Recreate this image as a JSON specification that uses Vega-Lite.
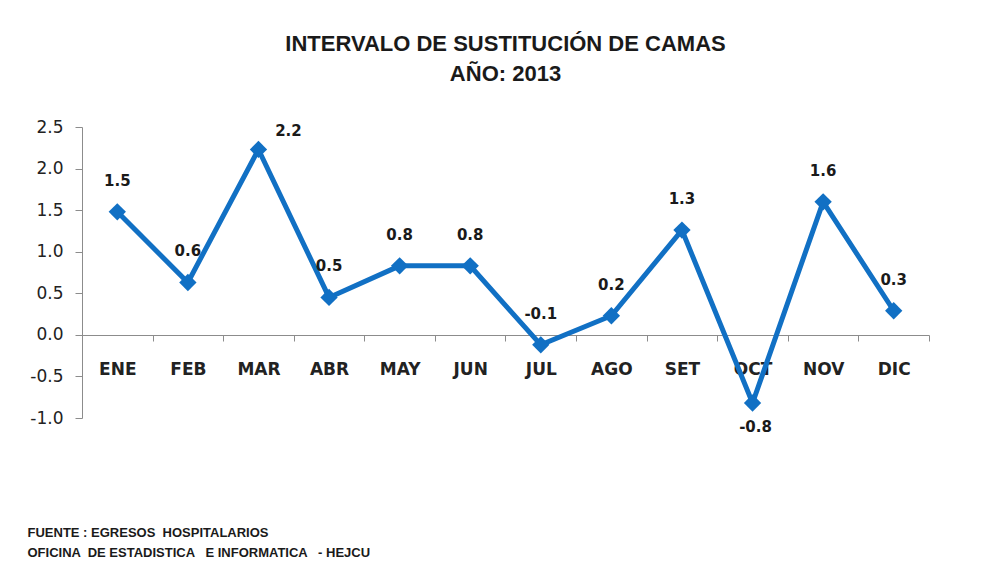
{
  "$schema": "https://vega.github.io/schema/vega-lite/v6.json",
  "autosize": {"type": "none"},
  "width": 847,
  "height": 291,
  "padding": {"left": 82, "top": 127, "right": 64, "bottom": 158},
  "background": "white",
  "config": {
    "view": {"stroke": null},
    "locale": {"number": {"decimal": ".", "thousands": ",", "grouping": [3], "currency": ["$", ""], "minus": "-"}}
  },
  "title": {
    "text": ["INTERVALO DE SUSTITUCIÓN DE CAMAS", "AÑO: 2013"],
    "anchor": "middle",
    "frame": "group",
    "font": "Liberation Sans",
    "fontSize": 22,
    "fontWeight": "bold",
    "color": "#1a1a1a",
    "lineHeight": 30,
    "offset": 32
  },
  "data": {
    "values": [
      {"mes": "ENE", "v": 1.48},
      {"mes": "FEB", "v": 0.63},
      {"mes": "MAR", "v": 2.23},
      {"mes": "ABR", "v": 0.45},
      {"mes": "MAY", "v": 0.83},
      {"mes": "JUN", "v": 0.83},
      {"mes": "JUL", "v": -0.12},
      {"mes": "AGO", "v": 0.23},
      {"mes": "SET", "v": 1.26},
      {"mes": "OCT", "v": -0.82},
      {"mes": "NOV", "v": 1.6},
      {"mes": "DIC", "v": 0.29}
    ]
  },
  "encoding": {
    "x": {
      "field": "mes",
      "type": "nominal",
      "sort": null,
      "scale": {"type": "band", "paddingInner": 0, "paddingOuter": 0},
      "axis": {
        "offset": -83,
        "labelAngle": 0,
        "labelFont": "DejaVu Sans",
        "labelFontWeight": "bold",
        "labelFontSize": 17,
        "labelColor": "#222222",
        "labelPadding": 20,
        "tickBand": "extent",
        "tickSize": 6,
        "tickColor": "#8c8c8c",
        "domainColor": "#8c8c8c",
        "grid": false,
        "title": ["FUENTE : EGRESOS \u00a0HOSPITALARIOS", "OFICINA \u00a0DE ESTADISTICA \u00a0\u00a0E INFORMATICA \u00a0\u00a0- HEJCU"],
        "titleFont": "Liberation Sans",
        "titleFontSize": 13,
        "titleFontWeight": "bold",
        "titleColor": "#1a1a1a",
        "titleAlign": "left",
        "titleAnchor": "start",
        "titleBaseline": "top",
        "titleLineHeight": 20,
        "titleX": -55,
        "titleY": 191
      }
    },
    "y": {
      "field": "v",
      "type": "quantitative",
      "scale": {"domain": [-1, 2.5], "nice": false, "zero": false},
      "axis": {
        "values": [-1, -0.5, 0, 0.5, 1, 1.5, 2, 2.5],
        "format": ".1f",
        "title": null,
        "grid": false,
        "labelFont": "DejaVu Sans",
        "labelFontSize": 17,
        "labelColor": "#222222",
        "labelPadding": 12,
        "tickSize": 7,
        "tickColor": "#8c8c8c",
        "domainColor": "#8c8c8c"
      }
    }
  },
  "layer": [
    {"mark": {"type": "line", "color": "#1170C4", "strokeWidth": 5}},
    {"mark": {"type": "point", "shape": "diamond", "filled": true, "size": 300, "color": "#1170C4", "opacity": 1}},
    {
      "transform": [{"filter": "datum.v >= -0.5 && datum.v <= 2"}],
      "mark": {"type": "text", "dy": -31, "font": "DejaVu Sans", "fontWeight": "bold", "fontSize": 15, "color": "#1a1a1a", "baseline": "middle"},
      "encoding": {"text": {"field": "v", "type": "quantitative", "format": ".1f"}}
    },
    {
      "transform": [{"filter": "datum.v > 2"}],
      "mark": {"type": "text", "dx": 30, "dy": -18, "font": "DejaVu Sans", "fontWeight": "bold", "fontSize": 15, "color": "#1a1a1a", "baseline": "middle"},
      "encoding": {"text": {"field": "v", "type": "quantitative", "format": ".1f"}}
    },
    {
      "transform": [{"filter": "datum.v < -0.5"}],
      "mark": {"type": "text", "dx": 3, "dy": 24, "font": "DejaVu Sans", "fontWeight": "bold", "fontSize": 15, "color": "#1a1a1a", "baseline": "middle"},
      "encoding": {"text": {"field": "v", "type": "quantitative", "format": ".1f"}}
    }
  ]
}
